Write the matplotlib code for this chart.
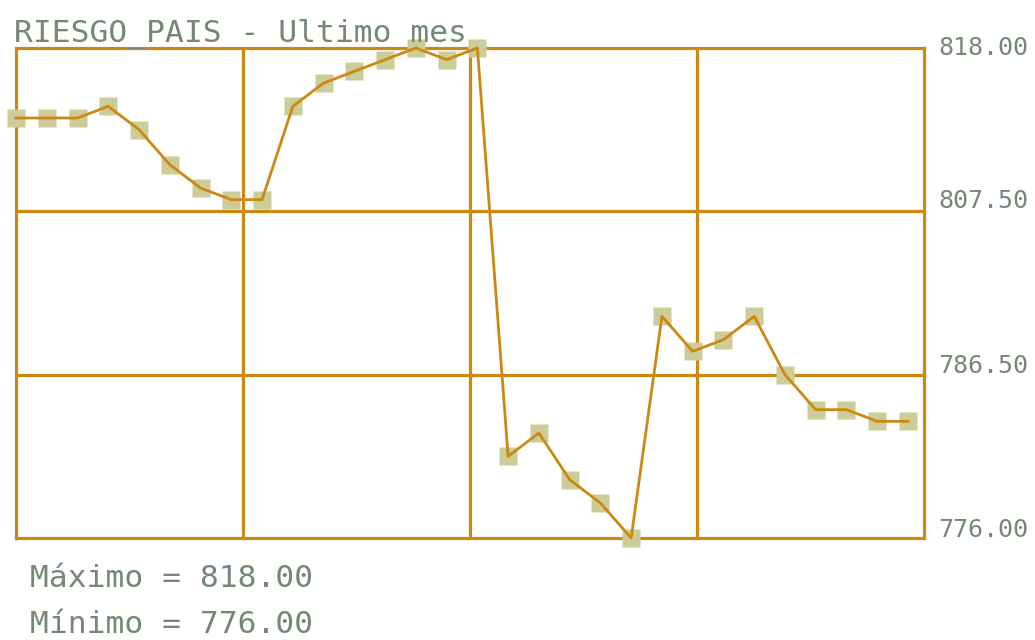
import matplotlib
matplotlib.use("Agg")
import numpy as np
import matplotlib.pyplot as plt

# datos del ultimo mes
valores = [812, 812, 812, 813, 811, 808, 806, 805, 805, 813,
           815, 816, 817, 818, 817, 818, 783, 785, 781, 779,
           776, 795, 792, 793, 795, 790, 787, 787, 786, 786]
titulo = "RIESGO_PAIS - Ultimo mes"
etiquetas_y = ["818.00", "807.50", "786.50", "776.00"]
maximo = 818.00
minimo = 776.00

linea = "#CC8811"
marca = "#CCCC99"
texto = "#748874"
fuente = "DejaVu Sans Mono"

W, H = 1035, 640
fig = plt.figure(figsize=(W / 100, H / 100), dpi=100)
ax = fig.add_axes([16 / W, 1 - 538 / H, (924 - 16) / W, (538 - 48) / H])

x = np.arange(len(valores))
xmax = (924 - 16) * (len(valores) - 1) / (908 - 16)
ax.set_xlim(0, xmax)
ax.set_ylim(minimo, maximo)

# grilla: 4 columnas, 3 filas
for gx in np.linspace(0, xmax, 5)[1:-1]:
    ax.axvline(gx, color=linea, lw=2.3, zorder=1)
for gy in np.linspace(minimo, maximo, 4)[1:-1]:
    ax.axhline(gy, color=linea, lw=2.3, zorder=1)
for s in ax.spines.values():
    s.set_color(linea)
    s.set_linewidth(2.3)
ax.set_xticks([])
ax.set_yticks([])

ax.plot(x, valores, ls="none", marker="s", ms=13.5, color=marca,
        mec="none", zorder=3, clip_on=False)
ax.plot(x, valores, color=linea, lw=2.0, zorder=4, clip_on=False)

# textos
fig.text(14 / W, 1 - 42 / H, titulo, family=fuente, fontsize=22.5,
         color=texto, va="baseline")
for lab, yb in zip(etiquetas_y, [55, 208, 373, 537]):
    fig.text(938 / W, 1 - yb / H, lab, family=fuente, fontsize=18,
             color=texto, va="baseline")
fig.text(30 / W, 1 - 587 / H, "Máximo = %.2f" % maximo, family=fuente,
         fontsize=22.5, color=texto, va="baseline")
fig.text(30 / W, 1 - 633 / H, "Mínimo = %.2f" % minimo, family=fuente,
         fontsize=22.5, color=texto, va="baseline")

fig.savefig("out.png", dpi=100, facecolor="white")
